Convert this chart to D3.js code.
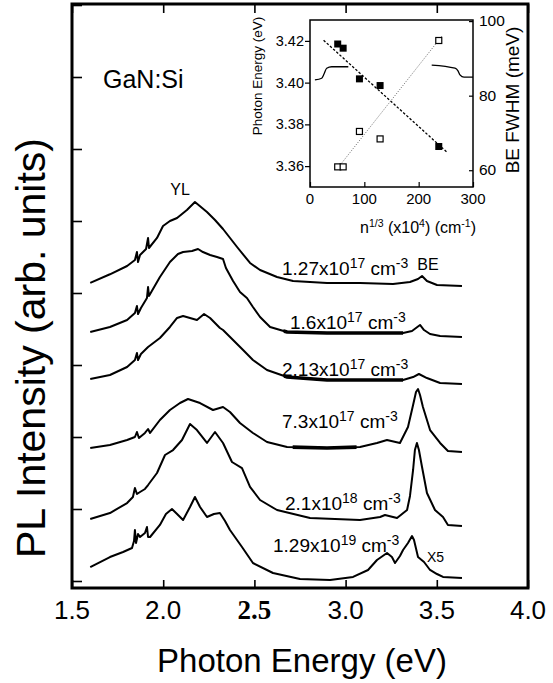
<!DOCTYPE html>
<html><head><meta charset="utf-8">
<script src="https://cdn.jsdelivr.net/npm/d3@7/dist/d3.min.js"></script>
<style>
html,body{margin:0;padding:0;background:#fff;}
svg{display:block;font-family:"Liberation Sans",Arial,Helvetica,sans-serif;}
</style></head>
<body>
<svg id="chart" width="553" height="683"></svg>
<script>
// ---------------- DATA ----------------
// main spectra: photon energy (eV) and stacked PL intensity (arb. units, tick units)
const c1E = [1.60,1.708,1.802,1.845,1.856,1.862,1.873,1.906,1.917,1.922,1.966,1.999,2.037,2.076,2.130,2.174,2.240,2.284,2.328,2.405,2.476,2.531,2.624,2.712,2.898,3.079,3.26,3.353,3.397,3.419,3.446,3.501,3.638];
const c1I = [4.14,4.26,4.375,4.458,4.569,4.43,4.528,4.611,4.764,4.625,4.764,4.931,5.0,5.042,5.153,5.264,5.125,5.014,4.889,4.639,4.417,4.319,4.222,4.167,4.139,4.139,4.125,4.153,4.194,4.236,4.167,4.111,4.097];

const c2E = [1.60,1.708,1.802,1.845,1.856,1.862,1.878,1.911,1.917,1.922,1.982,2.037,2.081,2.109,2.158,2.191,2.218,2.257,2.295,2.328,2.344,2.383,2.421,2.459,2.492,2.531,2.586,2.679,2.898,3.315,3.364,3.386,3.408,3.43,3.463,3.518,3.638];
const c2I = [3.458,3.528,3.625,3.722,3.819,3.708,3.792,3.931,4.083,3.958,4.222,4.431,4.542,4.569,4.583,4.611,4.569,4.528,4.5,4.472,4.347,4.167,4.014,3.931,3.806,3.667,3.528,3.458,3.444,3.444,3.472,3.514,3.556,3.486,3.431,3.403,3.389];

const c3E = [1.60,1.708,1.802,1.845,1.856,1.862,1.878,1.917,1.982,2.037,2.076,2.109,2.147,2.185,2.224,2.257,2.311,2.328,2.383,2.438,2.492,2.569,2.679,2.898,3.315,3.37,3.402,3.446,3.518,3.638];
const c3I = [2.806,2.861,2.972,3.069,3.167,3.069,3.153,3.25,3.375,3.528,3.653,3.681,3.653,3.625,3.708,3.653,3.514,3.486,3.347,3.208,3.069,2.931,2.833,2.792,2.792,2.833,2.875,2.819,2.75,2.736];

const c4E = [1.60,1.708,1.802,1.845,1.856,1.867,1.90,1.917,1.928,1.982,2.037,2.092,2.136,2.202,2.273,2.328,2.366,2.421,2.492,2.569,2.679,2.898,3.079,3.172,3.227,3.298,3.342,3.37,3.386,3.397,3.408,3.424,3.463,3.518,3.561,3.638];
const c4I = [1.847,1.889,1.958,2.0,2.069,1.986,2.056,2.111,2.056,2.236,2.375,2.472,2.528,2.472,2.375,2.417,2.347,2.194,2.056,1.931,1.861,1.847,1.861,1.917,1.958,1.917,2.139,2.444,2.625,2.667,2.583,2.417,2.097,1.917,1.806,1.792];

const c5E = [1.60,1.708,1.802,1.834,1.845,1.856,1.873,1.90,1.917,1.966,2.010,2.054,2.103,2.147,2.185,2.240,2.284,2.328,2.377,2.432,2.476,2.531,2.624,2.805,3.079,3.189,3.216,3.282,3.337,3.353,3.37,3.38,3.391,3.402,3.419,3.446,3.49,3.534,3.561,3.638];
const c5I = [0.861,0.944,1.083,1.167,1.292,1.208,1.236,1.278,1.333,1.5,1.75,1.819,1.958,2.181,2.097,1.917,2.069,1.917,1.653,1.569,1.306,1.125,0.986,0.875,0.847,0.889,0.917,0.875,0.986,1.181,1.542,1.819,1.917,1.819,1.583,1.222,0.986,0.889,0.778,0.764];

const c6E = [1.60,1.708,1.780,1.829,1.840,1.845,1.851,1.862,1.873,1.90,1.911,1.917,1.928,1.982,2.015,2.048,2.076,2.109,2.147,2.174,2.202,2.240,2.278,2.311,2.339,2.366,2.432,2.492,2.602,2.750,2.915,3.041,3.123,3.172,3.227,3.254,3.271,3.298,3.315,3.342,3.364,3.375,3.397,3.43,3.463,3.501,3.534,3.638];
const c6I = [0.194,0.333,0.403,0.458,0.556,0.708,0.528,0.653,0.611,0.667,0.75,0.611,0.611,0.778,0.931,1.0,0.931,0.847,1.028,1.167,1.028,0.889,0.931,0.944,0.833,0.708,0.472,0.25,0.111,0.028,0.014,0.056,0.153,0.292,0.389,0.333,0.25,0.347,0.431,0.528,0.625,0.569,0.333,0.264,0.153,0.097,0.056,0.042];

const densMantissa = ["1.27","1.6","2.13","7.3","2.1","1.29"];
const densExponent = ["17","17","17","17","18","19"];
// energy span where the scanned trace is drawn heavier (per curve)
const heavyFrom = [null, 2.66, 2.66, 2.71, null, null];
const heavyTo   = [null, 3.315, 3.315, 3.06, null, null];

const xMajorTicks = [1.5, 2.0, 2.5, 3.0, 3.5, 4.0];
const xTickLabels = ["1.5","2.0","2.5","3.0","3.5","4.0"];
const yTicks = [0,1,2,3,4,5,6,7,8];

// inset: BE peak position and FWHM versus n^(1/3)
const insetN    = [51, 61, 91, 129, 237];
const bePeakE   = [3.4185, 3.4165, 3.4018, 3.3986, 3.3694];
const beFwhm    = [60.9, 60.9, 70.4, 68.4, 94.8];
const fitEN = [25, 252];   const fitEV = [3.4203, 3.3667];
const fitWN = [55, 244];   const fitWV = [61.3, 96.2];
const insetXTicks = [0, 100, 200, 300];
const insetLTicks = [3.36, 3.38, 3.40, 3.42];
const insetRTicks = [60, 80, 100];
// stray trace fragments printed inside the inset (left-axis units)
const fragAN = [9, 21.5, 25.8, 30.7, 39.9, 70.5];
const fragAE = [3.4013, 3.4021, 3.4041, 3.4069, 3.4076, 3.4076];
const fragBN = [224, 266.9, 272.4, 276, 283.4, 300];
const fragBE = [3.4084, 3.4069, 3.4056, 3.4037, 3.4026, 3.4026];

// ---------------- DRAW ----------------
const svg = d3.select("#chart");
const L = 72, R = 528, T = 4, B = 588;
const x = d3.scaleLinear().domain([1.5, 4.0]).range([L, R]);
const y = d3.scaleLinear().domain([0, 8]).range([581, 5]);

const curves = [[c1E,c1I],[c2E,c2I],[c3E,c3I],[c4E,c4I],[c5E,c5I],[c6E,c6I]];
const line = d3.line().x(d => x(d[0])).y(d => y(d[1]));

const defs = svg.append("defs");
curves.forEach((c, i) => {
  const pts = c[0].map((e, k) => [e, c[1][k]]);
  svg.append("path").attr("d", line(pts)).attr("fill","none")
     .attr("stroke","#000").attr("stroke-width",2).attr("stroke-linejoin","round");
  if (heavyFrom[i] != null) {
    const id = "clip" + i;
    defs.append("clipPath").attr("id", id).append("rect")
      .attr("x", x(heavyFrom[i])).attr("width", x(heavyTo[i]) - x(heavyFrom[i]))
      .attr("y", 0).attr("height", 683);
    svg.append("path").attr("d", line(pts)).attr("fill","none")
      .attr("clip-path", `url(#${id})`)
      .attr("stroke","#000").attr("stroke-width",3.6);
  }
});

// frame
svg.append("rect").attr("x",L).attr("y",T).attr("width",R-L).attr("height",B-T)
  .attr("fill","none").attr("stroke","#000").attr("stroke-width",3);

// bottom axis (inward ticks)
const minorTicks = d3.range(15, 41).map(v => v/10);
const gB = svg.append("g").attr("transform",`translate(0,${B})`);
gB.call(d3.axisBottom(x).tickValues(minorTicks).tickSize(-4).tickFormat(""));
gB.call(d3.axisBottom(x).tickValues(xMajorTicks).tickSize(-8).tickFormat(""));
gB.selectAll(".domain").remove();
gB.selectAll("line").attr("stroke","#000").attr("stroke-width",1.6);
// top axis (inward ticks)
const gT = svg.append("g").attr("transform",`translate(0,${T})`);
gT.call(d3.axisTop(x).tickValues(minorTicks).tickSize(-5).tickFormat(""));
gT.call(d3.axisTop(x).tickValues(xMajorTicks).tickSize(-9).tickFormat(""));
gT.selectAll(".domain").remove();
gT.selectAll("line").attr("stroke","#000").attr("stroke-width",1.6);
// left axis (inward ticks)
const gL = svg.append("g").attr("transform",`translate(${L},0)`);
gL.call(d3.axisLeft(y).tickValues(yTicks).tickSize(-10).tickFormat(""));
gL.selectAll(".domain").remove();
gL.selectAll("line").attr("stroke","#000").attr("stroke-width",1.6);

// tick labels
xMajorTicks.forEach((v, i) => {
  const t = svg.append("text").attr("x", x(v)).attr("y", 619)
    .attr("text-anchor","middle").attr("font-size",26).text(xTickLabels[i]);
  if (xTickLabels[i] === "2.5") {
    t.attr("font-family","'Liberation Serif','Times New Roman',serif")
     .attr("font-weight","bold").attr("font-size",27);
  }
});

// axis titles
svg.append("text").attr("x",302).attr("y",672).attr("text-anchor","middle")
  .attr("font-size",33).text("Photon Energy (eV)");
svg.append("text").attr("transform","translate(45,348) rotate(-90)")
  .attr("text-anchor","middle").attr("font-size",41).text("PL Intensity (arb. units)");

// annotations
svg.append("text").attr("x",103).attr("y",88).attr("font-size",25).text("GaN:Si");
svg.append("text").attr("x",180).attr("y",195).attr("text-anchor","middle").attr("font-size",16).text("YL");
svg.append("text").attr("x",428).attr("y",270).attr("text-anchor","middle").attr("font-size",16).text("BE");
svg.append("text").attr("x",427).attr("y",562).attr("font-size",14).text("X5");

const labX = [282, 290, 282, 282, 285, 273];
const labY = [275, 329, 376, 428, 510, 552];
densMantissa.forEach((m, i) => {
  const t = svg.append("text").attr("x", labX[i]).attr("y", labY[i]).attr("font-size",19);
  t.append("tspan").text(m + "x10");
  t.append("tspan").attr("dy",-7).attr("font-size",14).text(densExponent[i]);
  t.append("tspan").attr("dy",7).text(" cm");
  t.append("tspan").attr("dy",-7).attr("font-size",14).text("-3");
});

// ---------------- INSET ----------------
const xi = d3.scaleLinear().domain([0,300]).range([310,473]);
const yiL = d3.scaleLinear().domain([3.35,3.43]).range([187,20]);
const yiR = d3.scaleLinear().domain([55.5,100.3]).range([187,20]);
const g = svg.append("g");
g.append("rect").attr("x",310).attr("y",20).attr("width",163).attr("height",167)
  .attr("fill","#fff").attr("stroke","#000").attr("stroke-width",1.5);

const gi1 = g.append("g").attr("transform","translate(0,187)");
gi1.call(d3.axisBottom(xi).tickValues([50,150,250]).tickSize(-3).tickFormat(""));
gi1.call(d3.axisBottom(xi).tickValues(insetXTicks).tickSize(-5).tickFormat(""));
gi1.selectAll(".domain").remove();
const gi2 = g.append("g").attr("transform","translate(310,0)");
gi2.call(d3.axisLeft(yiL).tickValues([3.35,3.37,3.39,3.41,3.43]).tickSize(3).tickFormat(""));
gi2.call(d3.axisLeft(yiL).tickValues(insetLTicks).tickSize(5).tickFormat(""));
gi2.selectAll(".domain").remove();
const gi3 = g.append("g").attr("transform","translate(473,0)");
gi3.call(d3.axisLeft(yiR).tickValues([70,90]).tickSize(3).tickFormat(""));
gi3.call(d3.axisLeft(yiR).tickValues(insetRTicks).tickSize(4).tickFormat(""));
gi3.selectAll(".domain").remove();
g.selectAll(".tick line").attr("stroke","#000").attr("stroke-width",1.2);

insetXTicks.forEach(v => g.append("text").attr("x",xi(v)).attr("y",204)
  .attr("text-anchor","middle").attr("font-size",15).text(v));
insetLTicks.forEach(v => g.append("text").attr("x",304).attr("y",yiL(v)+5)
  .attr("text-anchor","end").attr("font-size",14.5).text(v.toFixed(2)));
insetRTicks.forEach(v => g.append("text").attr("x",479).attr("y",yiR(v)+5)
  .attr("font-size",15.5).text(v));

g.append("text").attr("transform","translate(262,76) rotate(-90)")
  .attr("text-anchor","middle").attr("font-size",13.5).text("Photon Energy (eV)");
g.append("text").attr("transform","translate(519,100) rotate(-90)")
  .attr("text-anchor","middle").attr("font-size",19).text("BE FWHM (meV)");
const xt = g.append("text").attr("x",418).attr("y",233).attr("text-anchor","middle").attr("font-size",16);
xt.append("tspan").text("n");
xt.append("tspan").attr("dy",-6).attr("font-size",10.5).text("1/3");
xt.append("tspan").attr("dy",6).text(" (x10");
xt.append("tspan").attr("dy",-6).attr("font-size",10.5).text("4");
xt.append("tspan").attr("dy",6).text(") (cm");
xt.append("tspan").attr("dy",-6).attr("font-size",10.5).text("-1");
xt.append("tspan").attr("dy",6).text(")");

// fragments
const fragLine = d3.line().x(d => xi(d[0])).y(d => yiL(d[1])).curve(d3.curveMonotoneX);
[[fragAN,fragAE],[fragBN,fragBE]].forEach(f => {
  g.append("path").attr("d", fragLine(f[0].map((n,k)=>[n,f[1][k]])))
   .attr("fill","none").attr("stroke","#000").attr("stroke-width",1.3);
});

// fit lines
g.append("path").attr("d", d3.line()(fitEN.map((n,k)=>[xi(n), yiL(fitEV[k])])))
  .attr("stroke","#000").attr("stroke-width",1.3).attr("stroke-dasharray","2.5,1.8").attr("fill","none");
g.append("path").attr("d", d3.line()(fitWN.map((n,k)=>[xi(n), yiR(fitWV[k])])))
  .attr("stroke","#666").attr("stroke-width",1).attr("stroke-dasharray","1,1.6").attr("fill","none");

// markers
insetN.forEach((n, k) => {
  g.append("rect").attr("x", xi(n)-3.5).attr("y", yiL(bePeakE[k])-3.5)
    .attr("width",7).attr("height",7).attr("fill","#000");
  g.append("rect").attr("x", xi(n)-3).attr("y", yiR(beFwhm[k])-3)
    .attr("width",6).attr("height",6).attr("fill","#fff").attr("stroke","#000").attr("stroke-width",1.2);
});
</script>
</body></html>
